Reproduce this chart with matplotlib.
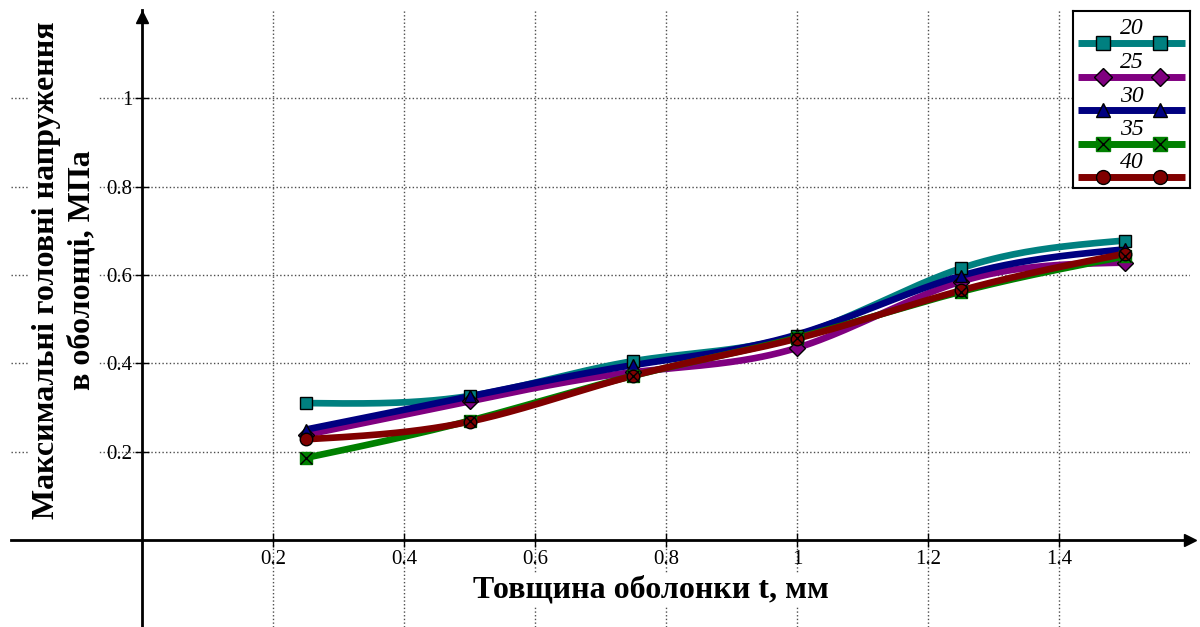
import numpy as np
import matplotlib.pyplot as plt

plt.rcParams['font.family'] = ['Liberation Serif', 'DejaVu Serif']

# shell thickness, mm
thickness = [0.25, 0.5, 0.75, 1.0, 1.25, 1.5]

# max principal stress, MPa, one series per parameter value
labels = ['20', '25', '30', '35', '40']
stress_20 = [0.31, 0.326, 0.405, 0.463, 0.615, 0.678]
stress_25 = [0.238, 0.314, 0.38, 0.435, 0.585, 0.628]
stress_30 = [0.25, 0.325, 0.396, 0.465, 0.598, 0.658]
stress_35 = [0.186, 0.27, 0.372, 0.458, 0.562, 0.642]
stress_40 = [0.228, 0.268, 0.372, 0.456, 0.565, 0.648]
series = [stress_20, stress_25, stress_30, stress_35, stress_40]

colors = ['#008080', '#800080', '#000080', '#008000', '#800000']
markers = ['s', 'D', '^', 's', 'o']

x_ticks = [0.2, 0.4, 0.6, 0.8, 1.0, 1.2, 1.4]
x_ticklabels = ['0.2', '0.4', '0.6', '0.8', '1', '1.2', '1.4']
y_ticks = [0.2, 0.4, 0.6, 0.8, 1.0]
y_ticklabels = ['0.2', '0.4', '0.6', '0.8', '1']


def natural_spline(x, y, n=200):
    # natural cubic spline through the points
    x = np.asarray(x, float)
    y = np.asarray(y, float)
    m = len(x)
    h = np.diff(x)
    A = np.zeros((m, m))
    r = np.zeros(m)
    A[0, 0] = A[-1, -1] = 1
    for i in range(1, m - 1):
        A[i, i - 1] = h[i - 1]
        A[i, i] = 2 * (h[i - 1] + h[i])
        A[i, i + 1] = h[i]
        r[i] = 6 * ((y[i + 1] - y[i]) / h[i] - (y[i] - y[i - 1]) / h[i - 1])
    M = np.linalg.solve(A, r)
    xs = np.linspace(x[0], x[-1], n)
    k = np.clip(np.searchsorted(x, xs) - 1, 0, m - 2)
    t0 = x[k + 1] - xs
    t1 = xs - x[k]
    hk = h[k]
    ys = (M[k] * t0 ** 3 + M[k + 1] * t1 ** 3) / (6 * hk) \
        + (y[k] / hk - M[k] * hk / 6) * t0 + (y[k + 1] / hk - M[k + 1] * hk / 6) * t1
    return xs, ys


W, H = 1200, 627
fig = plt.figure(figsize=(W / 100, H / 100), dpi=100)
ax = fig.add_axes([11 / W, 0, (1190 - 11) / W, (H - 10) / H])
ax.set_xlim(-0.2, 1.6)
ax.set_ylim(-0.197, 1.2)

for sp in ['top', 'right']:
    ax.spines[sp].set_visible(False)
ax.spines['left'].set_position(('data', 0))
ax.spines['bottom'].set_position(('data', 0))
for sp in ['left', 'bottom']:
    ax.spines[sp].set_linewidth(2)
    ax.spines[sp].set_zorder(4)

ax.set_xticks(x_ticks)
ax.set_xticklabels(x_ticklabels)
ax.set_yticks(y_ticks)
ax.set_yticklabels(y_ticklabels)
ax.tick_params(direction='inout', length=10, width=1, labelsize=15, pad=2)
ax.grid(True, linestyle=':', color='0.3', linewidth=1)
ax.set_axisbelow(True)

# arrow heads on the axes
ax.plot(1, 0, '>k', ms=9, transform=ax.get_yaxis_transform(), clip_on=False, zorder=5)
ax.plot(0, 0.988, '^k', ms=9, transform=ax.get_xaxis_transform(), clip_on=False, zorder=5)

for ys, c, mk in zip(series, colors, markers):
    xs_s, ys_s = natural_spline(thickness, ys)
    ax.plot(xs_s, ys_s, color=c, lw=4.8, solid_capstyle='butt', zorder=3)
for ys, c, mk in zip(series, colors, markers):
    if c == '#008000':
        ax.plot(thickness, ys, 's', color=c, ms=9, mec=c, zorder=5)
        ax.plot(thickness, ys, 'x', color='k', ms=8, mew=1, zorder=6)
    else:
        ax.plot(thickness, ys, mk, color=c, ms=9 if mk != 'D' else 8, mec='k', mew=1, zorder=5)

fig.text(64 / W, 1 - 270 / H, 'Максимальні головні напруження\nв оболонці, МПа',
         rotation=90, ha='center', va='center', fontsize=23, fontweight='bold',
         linespacing=1.3, bbox=dict(facecolor='white', edgecolor='none', pad=2))
fig.text(651 / W, 1 - 590 / H, 'Товщина оболонки t, мм', ha='center', va='center',
         fontsize=23, fontweight='bold',
         bbox=dict(facecolor='white', edgecolor='none', pad=2))

# legend box
lx0, ly0, lx1, ly1 = 1073, 11, 1190, 188
lax = fig.add_axes([lx0 / W, 1 - ly1 / H, (lx1 - lx0) / W, (ly1 - ly0) / H])
lax.set_xlim(0, lx1 - lx0)
lax.set_ylim(ly1 - ly0, 0)
lax.set_xticks([])
lax.set_yticks([])
for sp in lax.spines.values():
    sp.set_linewidth(1.5)
for i, (lab, c, mk) in enumerate(zip(labels, colors, markers)):
    yl = 32 + i * 33.5
    lax.plot([5, 112], [yl, yl], color=c, lw=5, solid_capstyle='butt')
    if c == '#008000':
        lax.plot([30, 87], [yl, yl], 's', color=c, ms=10, mec=c)
        lax.plot([30, 87], [yl, yl], 'x', color='k', ms=9, mew=1)
    else:
        lax.plot([30, 87], [yl, yl], mk, color=c, ms=10 if mk != 'D' else 9, mec='k', mew=1)
    lax.text(59, yl - 14, lab, ha='center', va='center', fontsize=17, style='italic')

fig.savefig('out.png', dpi=100)
